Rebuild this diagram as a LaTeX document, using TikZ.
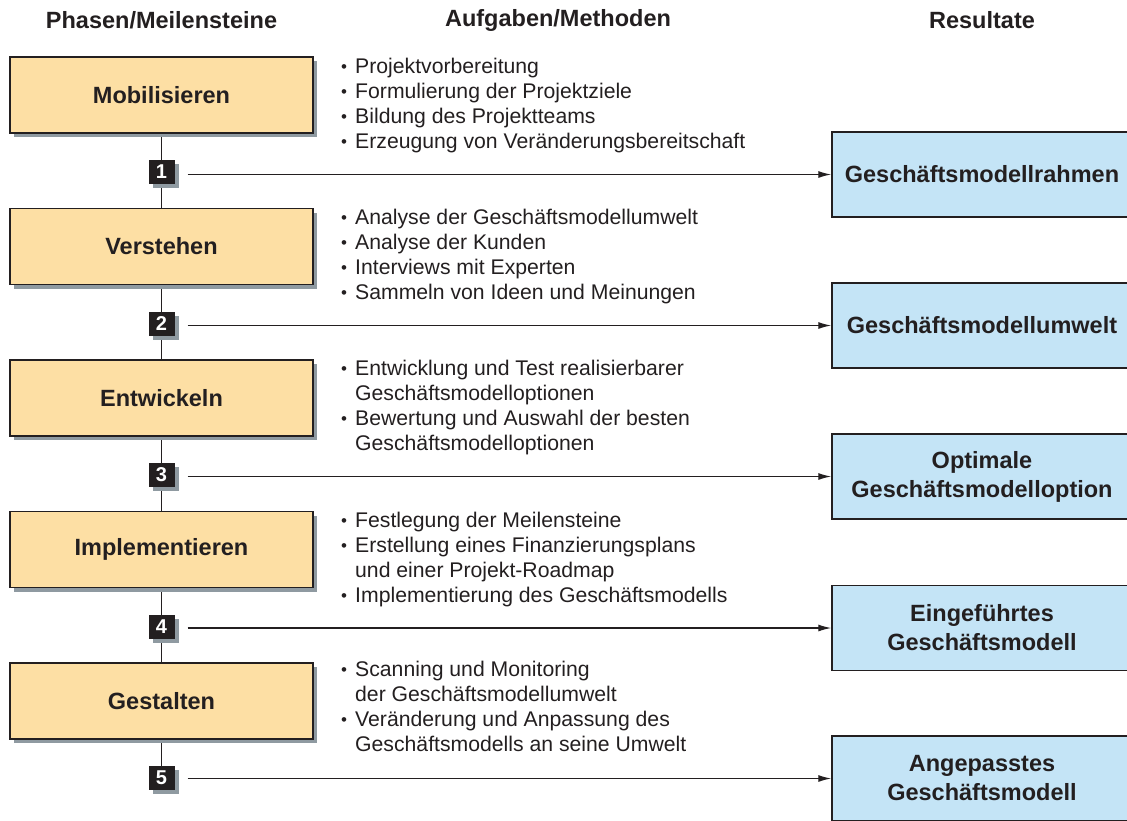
\documentclass[tikz,border=0pt]{standalone}
\usepackage{fontspec}
\setmainfont{Liberation Sans}
\usetikzlibrary{shadows,arrows.meta,backgrounds}
\definecolor{phasefill}{HTML}{FDDFA4}
\definecolor{resultfill}{HTML}{C4E4F6}
\definecolor{shadowgray}{HTML}{8F9AA1}
\definecolor{ink}{HTML}{231F20}
\newcommand{\bitem}[1]{\makebox[14pt][l]{\raisebox{1pt}{\scalebox{0.8}{•}}}#1}
\newcommand{\bcont}[1]{\hspace*{14pt}#1}
\begin{document}
\begin{tikzpicture}[x=1pt,y=-1pt,
  phase/.style={draw=ink, line width=1.4pt, fill=phasefill, minimum width=303pt, minimum height=76pt,
    inner sep=0pt, font=\fontsize{23.5}{28}\selectfont\bfseries, text=ink,
    general shadow={fill=shadowgray, shadow xshift=4pt, shadow yshift=-4pt}},
  result/.style={draw=ink, line width=1.4pt, fill=resultfill, minimum width=300pt, minimum height=85pt,
    inner sep=0pt, align=center, font=\fontsize{23.5}{29}\selectfont\bfseries, text=ink},
  milestone/.style={fill=ink, minimum width=26pt, minimum height=24pt, inner sep=0pt,
    font=\fontsize{20}{20}\selectfont\bfseries, text=white,
    general shadow={fill=shadowgray, shadow xshift=4pt, shadow yshift=-4pt}},
  header/.style={font=\fontsize{23.5}{28}\selectfont\bfseries, text=ink, inner sep=0pt},
  tasks/.style={anchor=north west, align=left, inner sep=0pt, text=ink,
    font=\fontsize{21.2}{25}\selectfont},
  link/.style={draw=ink, line width=1.3pt},
  flow/.style={draw=ink, line width=1.3pt, -{Latex[length=13pt,width=7pt]}}]
\useasboundingbox (0,0) rectangle (1127,820);

% column headings
\node[header] (h1) at (161.5,20) {Phasen/Meilensteine};
\node[header] (h2) at (558,20) {Aufgaben/Methoden};
\node[header] (h3) at (982,20) {Resultate};

% phases
\node[phase] (p1) at (161.5,95) {Mobilisieren};
\node[phase] (p2) at (161.5,246.5) {Verstehen};
\node[phase] (p3) at (161.5,398) {Entwickeln};
\node[phase] (p4) at (161.5,549.5) {Implementieren};
\node[phase] (p5) at (161.5,701) {Gestalten};

% milestones
\node[milestone] (m1) at (161.5,172) {1};
\node[milestone] (m2) at (161.5,323.5) {2};
\node[milestone] (m3) at (161.5,475) {3};
\node[milestone] (m4) at (161.5,626.5) {4};
\node[milestone] (m5) at (161.5,778) {5};

% spine running behind phases and milestones
\begin{scope}[on background layer]
  \draw[link] (p1.south) -- (m5.north);
\end{scope}

% results
\node[result] (r1) at (982,174.5) {Geschäftsmodellrahmen};
\node[result] (r2) at (982,325.5) {Geschäftsmodellumwelt};
\node[result] (r3) at (982,476.5) {Optimale\\Geschäftsmodelloption};
\node[result] (r4) at (982,628) {Eingeführtes\\Geschäftsmodell};
\node[result] (r5) at (982,778.5) {Angepasstes\\Geschäftsmodell};

% tasks and methods
\node[tasks] (t1) at (341,57.5) {\bitem{Projektvorbereitung}\\
  \bitem{Formulierung der Projektziele}\\
  \bitem{Bildung des Projektteams}\\
  \bitem{Erzeugung von Veränderungsbereitschaft}};
\node[tasks] (t2) at (341,208.5) {\bitem{Analyse der Geschäftsmodellumwelt}\\
  \bitem{Analyse der Kunden}\\
  \bitem{Interviews mit Experten}\\
  \bitem{Sammeln von Ideen und Meinungen}};
\node[tasks] (t3) at (341,359.5) {\bitem{Entwicklung und Test realisierbarer}\\
  \bcont{Geschäftsmodelloptionen}\\
  \bitem{Bewertung und Auswahl der besten}\\
  \bcont{Geschäftsmodelloptionen}};
\node[tasks] (t4) at (341,512) {\bitem{Festlegung der Meilensteine}\\
  \bitem{Erstellung eines Finanzierungsplans}\\
  \bcont{und einer Projekt-Roadmap}\\
  \bitem{Implementierung des Geschäftsmodells}};
\node[tasks] (t5) at (341,661) {\bitem{Scanning und Monitoring}\\
  \bcont{der Geschäftsmodellumwelt}\\
  \bitem{Veränderung und Anpassung des}\\
  \bcont{Geschäftsmodells an seine Umwelt}};

% milestone arrows
\foreach \i in {1,...,5}
  \draw[flow] ([xshift=13pt]m\i.east |- r\i.west) -- (r\i.west);
\end{tikzpicture}
\end{document}
